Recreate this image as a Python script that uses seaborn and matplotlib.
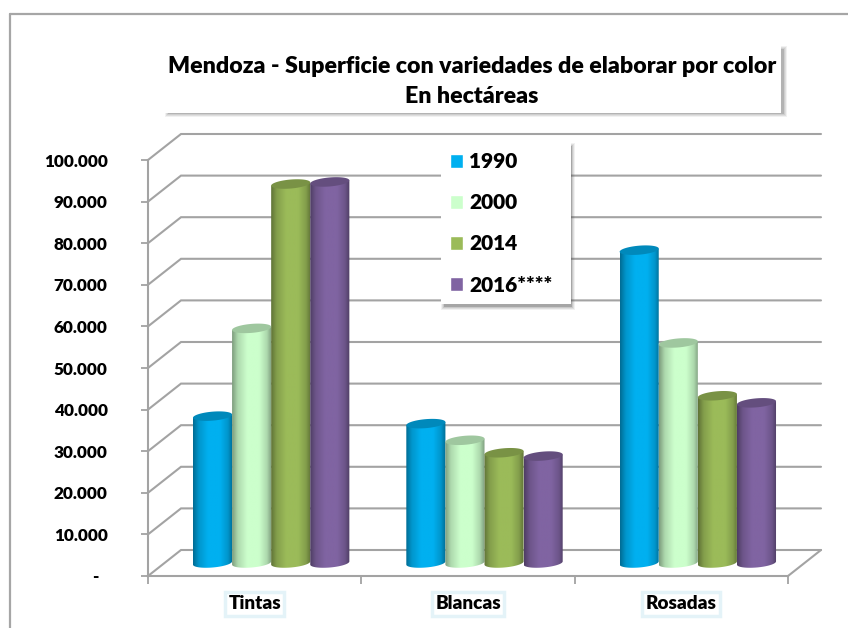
import numpy as np
import pandas as pd
import seaborn as sns
import matplotlib
matplotlib.use("Agg")
import matplotlib.pyplot as plt
from matplotlib.colors import LinearSegmentedColormap, to_rgb
from matplotlib.lines import Line2D
from matplotlib.patches import Polygon, Rectangle, PathPatch
from matplotlib.path import Path
from matplotlib.transforms import Affine2D

categories = ["Tintas", "Blancas", "Rosadas"]
years = ["1990", "2000", "2014", "2016****"]
v1990 = [35300, 33500, 75200]
v2000 = [56400, 29500, 52900]
v2014 = [91100, 26500, 40200]
v2016 = [91600, 25700, 38500]
colors = ["#00B0F0", "#CCFFCC", "#9BBB59", "#8064A2"]
y_ticks = [0, 10000, 20000, 30000, 40000, 50000, 60000, 70000, 80000, 90000, 100000]
y_labels = ["-  ", "10.000", "20.000", "30.000", "40.000", "50.000", "60.000",
            "70.000", "80.000", "90.000", "100.000"]
title_text = "Mendoza - Superficie con variedades de elaborar por color\nEn hectáreas"

W, H = 848, 628
DX, DY = 16.5, 13.0  # half depth of the 3D floor, pixels
WEIGHT = "heavy"

sns.set_theme(style="white")
plt.rcParams["font.family"] = ["Lato", "DejaVu Sans"]

df = pd.DataFrame({
    "cat": categories * 4,
    "year": [y for y in years for _ in categories],
    "value": v1990 + v2000 + v2014 + v2016,
})

fig = plt.figure(figsize=(W / 100, H / 100), dpi=100, facecolor="white")


def px_rect(x0, y0, x1, y1):
    return [x0 / W, 1 - y1 / H, (x1 - x0) / W, (y1 - y0) / H]


def fig_xy(x, y):
    return x / W, 1 - y / H


# front plane axes: carries ticks, labels and walls
front = fig.add_axes(px_rect(148, 160, 788, 576), zorder=1)
# mid-depth axes: carries the cylinders
ax = fig.add_axes(px_rect(148 + DX, 160 - DY, 788 + DX, 576 - DY), zorder=2)
ax.patch.set_visible(False)

GRID = "#a3a3a3"
front.set_ylim(0, 100000)
front.set_xlim(0, 3)
front.set_yticks(y_ticks, y_labels, fontsize=12.3, fontweight=WEIGHT, color="black")
front.set_xticks([0.5, 1.5, 2.5], categories, fontsize=13.6, fontweight=WEIGHT, color="black")
front.set_xticks([0, 1, 2, 3], minor=True)
front.tick_params(axis="y", length=5, width=1.3, color=GRID, pad=24, left=True)
front.tick_params(axis="x", which="major", length=0, pad=14, bottom=False)
front.tick_params(axis="x", which="minor", length=6, width=1.3, color=GRID, bottom=True)
for s in ["top", "right"]:
    front.spines[s].set_visible(False)
for s in ["left", "bottom"]:
    front.spines[s].set_color(GRID)
    front.spines[s].set_linewidth(1.5)
for lab in front.get_xticklabels():
    lab.set_bbox(dict(facecolor="white", edgecolor="#e4f3f8", linewidth=2.5, pad=2.5))

back = front.get_yaxis_transform() + Affine2D().translate(2 * DX, 2 * DY)
base = front.get_yaxis_transform()
for t in y_ticks:
    a = base.transform((0, t))
    b = back.transform((0, t))
    c = back.transform((1, t))
    front.plot([a[0], b[0], c[0]], [a[1], b[1], c[1]], transform=None, color=GRID, lw=1.5,
               clip_on=False, zorder=1, solid_joinstyle="miter")
# floor right edge
a = base.transform((1, 0))
b = back.transform((1, 0))
front.plot([a[0], b[0]], [a[1], b[1]], transform=None, color=GRID, lw=1.5, clip_on=False, zorder=1)
front.set_ylim(0, 100000)
front.set_xlim(0, 3)

# cylinders
sns.barplot(data=df, x="cat", y="value", hue="year", order=categories, hue_order=years,
            palette=colors, saturation=1, width=0.733, ax=ax, legend=True)
ax.set_xlim(-0.5, 2.5)
ax.set_ylim(0, 100000)
ax.set_axis_off()
handles, labels = ax.get_legend_handles_labels()
ax.get_legend().remove()

PER_PX = 100000 / 416
ELL = 4.5 * PER_PX     # half height of the cylinder caps
TILT = 1.6 * PER_PX    # rise of a cap's right end above its centre
TH = np.linspace(0, 2 * np.pi, 80)


def cap_verts(xc, hw, v, theta):
    cx = np.cos(theta)
    return np.column_stack([xc + hw * cx, v + ELL * np.sin(theta) + TILT * cx])


for container, col in zip(ax.containers, colors):
    rgb = np.array(to_rgb(col))
    dark = rgb * 0.62
    mid = rgb * 0.85
    cmap = LinearSegmentedColormap.from_list(
        "c", [(0, dark), (0.14, mid), (0.38, rgb), (0.68, rgb), (0.88, mid), (1, dark)])
    for bar in container:
        x, w, v = bar.get_x(), bar.get_width(), bar.get_height()
        xc = x + w / 2
        lower = cap_verts(xc, w / 2, 0, np.linspace(np.pi, 2 * np.pi, 40))
        tl = cap_verts(xc, w / 2, v, np.array([np.pi]))
        tr = cap_verts(xc, w / 2, v, np.array([0.0]))
        verts = np.vstack([tl, lower, tr, tl])
        clip = PathPatch(Path(verts), transform=ax.transData, facecolor="none", edgecolor="none")
        ax.add_patch(clip)
        clip.set_clip_on(False)
        im = ax.imshow(np.linspace(0, 1, 64).reshape(1, -1), cmap=cmap, aspect="auto",
                       extent=(x, x + w, -3 * ELL, v + 3 * ELL), zorder=3, interpolation="bilinear")
        im.set_clip_box(fig.bbox)
        im.set_clip_path(clip)
        bar.set_visible(False)
        ax.add_patch(Polygon(cap_verts(xc, w / 2, v, TH), closed=True, facecolor=rgb * 0.78,
                             edgecolor="none", zorder=3.1, clip_on=False))
ax.set_xlim(-0.5, 2.5)
ax.set_ylim(0, 100000)


def shadow_box(x0, y0, x1, y1, ox, oy, host, shade=0.3):
    for g, al in [(2, 0.08), (1, 0.12), (0, shade * 0.5), (-1, shade)]:
        host.add_patch(Rectangle(((x0 + ox - g) / W, 1 - (y1 + oy + g) / H),
                                 (x1 - x0 + 2 * g) / W, (y1 - y0 + 2 * g) / H,
                                 transform=fig.transFigure, facecolor="#555555", edgecolor="none",
                                 alpha=al, clip_on=False, zorder=6))
    host.add_patch(Rectangle((x0 / W, 1 - y1 / H), (x1 - x0) / W, (y1 - y0) / H,
                             transform=fig.transFigure, facecolor="white", edgecolor="none",
                             clip_on=False, zorder=6.1))


# legend
shadow_box(441, 141, 571, 304, 2, 4, ax)
leg = ax.legend(handles, labels, loc="upper left", bbox_to_anchor=fig_xy(443, 145),
                bbox_transform=fig.transFigure, frameon=False,
                prop={"size": 15, "weight": WEIGHT, "family": ["Lato", "DejaVu Sans"]},
                labelcolor="black",
                handlelength=0.62, handleheight=0.62, handletextpad=0.3,
                labelspacing=1.06, borderpad=0.35, borderaxespad=0)
leg.set_zorder(7)

# outer frame (left and top edges only)
for xs, ys in [((10, 10), (14, H)), ((10, W), (14, 14))]:
    fig.add_artist(Line2D([x / W for x in xs], [1 - y / H for y in ys], transform=fig.transFigure,
                          color="#a6a6a6", linewidth=1.6, zorder=0))
shadow_box(163, 46, 781, 113, 4, 2, ax, shade=0.22)
ax.text(472 / W, 1 - 81.5 / H, title_text, transform=fig.transFigure, ha="center", va="center",
        fontsize=16.7, fontweight=WEIGHT, color="black", linespacing=1.5, zorder=7, clip_on=False)

fig.savefig("out.png", dpi=100)
